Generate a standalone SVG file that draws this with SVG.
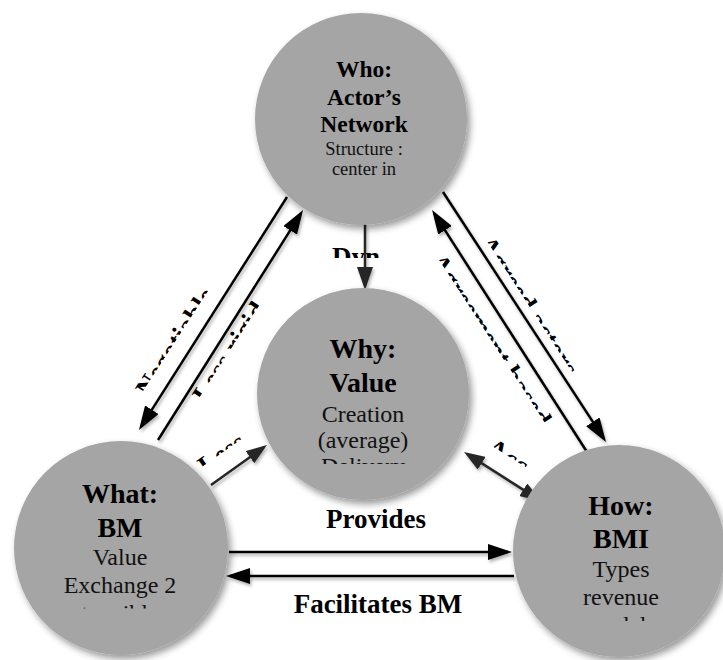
<svg xmlns="http://www.w3.org/2000/svg" width="723" height="660" viewBox="0 0 723 660">
  <style>
    .node { fill: #a5a5a5; filter: url(#soft); }
    .title { font-family: "Liberation Serif", "Times New Roman", serif; font-weight: bold; text-anchor: middle; fill: #000; }
    .body { font-family: "Liberation Serif", "Times New Roman", serif; text-anchor: middle; fill: #111; }
    .lbl { font-family: "Liberation Serif", "Times New Roman", serif; font-weight: bold; font-size: 27px; fill: #000; }
    .mid { text-anchor: middle; }
    .edge { fill: none; stroke: #000; stroke-width: 2.5; }
    .edge-dk { fill: none; stroke: #262626; stroke-width: 2.5; }
  </style>
  <defs>
    <filter id="soft" x="-20%" y="-20%" width="140%" height="140%">
      <feDropShadow dx="3" dy="4" stdDeviation="3.5" flood-color="#000" flood-opacity="0.4"/>
    </filter>
    <filter id="lineShade" x="-10%" y="-10%" width="120%" height="120%">
      <feDropShadow dx="1.5" dy="2.5" stdDeviation="1.5" flood-color="#000" flood-opacity="0.3"/>
    </filter>
    <marker id="arrow" markerUnits="userSpaceOnUse" markerWidth="24" markerHeight="16" refX="20" refY="8" orient="auto">
      <path d="M0,0 L24,8 L0,16 Z" fill="#000"/>
    </marker>
    <marker id="arrowDk" markerUnits="userSpaceOnUse" markerWidth="23" markerHeight="16" refX="19" refY="8" orient="auto">
      <path d="M0,0 L23,8 L0,16 Z" fill="#262626"/>
    </marker>
    <marker id="arrowDkS" markerUnits="userSpaceOnUse" markerWidth="21" markerHeight="15" refX="17" refY="7.5" orient="auto-start-reverse">
      <path d="M0,0 L21,7.5 L0,15 Z" fill="#262626"/>
    </marker>
    <!-- label text boxes are too small: only the upper part of each line shows -->
    <clipPath id="band" clipPathUnits="userSpaceOnUse">
      <rect x="-200" y="-40" width="400" height="32"/>
    </clipPath>
    <clipPath id="bandNarrow" clipPathUnits="userSpaceOnUse">
      <rect x="-200" y="-40" width="400" height="30.5"/>
    </clipPath>
    <clipPath id="clipWhy"><rect x="250" y="440" width="230" height="24"/></clipPath>
    <clipPath id="clipWhat"><rect x="10" y="590" width="230" height="18.5"/></clipPath>
    <clipPath id="clipHow"><rect x="510" y="600" width="213" height="21"/></clipPath>
  </defs>

  <rect width="723" height="660" fill="#fff"/>

  <!-- connectors and their labels -->
  <g id="connectors">
    <g id="edge-labels">
      <g transform="translate(332,266)"><text class="lbl" x="0" y="0" clip-path="url(#band)">Dyn</text></g>
      <g transform="translate(183,347) rotate(-57)"><text class="lbl mid" x="0" y="0" clip-path="url(#bandNarrow)">Negotiable</text></g>
      <g transform="translate(237,357) rotate(-57)"><text class="lbl mid" x="0" y="0" clip-path="url(#bandNarrow)">Less rigid</text></g>
      <g transform="translate(521,311) rotate(57)"><text class="lbl mid" x="0" y="0" clip-path="url(#bandNarrow)">Agreed actors</text></g>
      <g transform="translate(483,345) rotate(57)"><text class="lbl mid" x="0" y="0" clip-path="url(#bandNarrow)">Agreement based</text></g>
      <g transform="translate(227,461) rotate(-35)"><text class="lbl mid" x="0" y="0" clip-path="url(#bandNarrow)">Less</text></g>
      <g transform="translate(503,464) rotate(32)"><text class="lbl mid" x="0" y="0" clip-path="url(#bandNarrow)">Acc</text></g>
      <text class="lbl mid" x="376" y="528">Provides</text>
      <text class="lbl mid" x="378" y="613">Facilitates BM</text>
    </g>
    <g id="edge-lines" filter="url(#lineShade)">
      <path class="edge" d="M287,197 L141.1,426.6" marker-end="url(#arrow)"/>
      <path class="edge" d="M158,440 L300.9,213.4" marker-end="url(#arrow)"/>
      <path class="edge" d="M443,192 L603.8,438.6" marker-end="url(#arrow)"/>
      <path class="edge" d="M587,452 L434.2,213.4" marker-end="url(#arrow)"/>
      <path class="edge" d="M229,552 L508,552" marker-end="url(#arrow)"/>
      <path class="edge" d="M514,576 L230,576" marker-end="url(#arrow)"/>
      <path class="edge-dk" d="M365,224 L365,286" marker-end="url(#arrowDk)"/>
      <path class="edge-dk" d="M211,485 L263.7,447.3" marker-end="url(#arrowDkS)"/>
      <path class="edge-dk" d="M467.4,454.1 L537.6,498.9" marker-start="url(#arrowDkS)" marker-end="url(#arrowDkS)"/>
    </g>
  </g>

  <!-- Who -->
  <g id="who">
    <circle class="node" cx="361" cy="119" r="106"/>
    <text class="title" x="364" y="77" font-size="23.5">Who:</text>
    <text class="title" x="364" y="105" font-size="23.5">Actor’s</text>
    <text class="title" x="364" y="132" font-size="23.5">Network</text>
    <text class="body" x="364" y="155" font-size="18.5">Structure :</text>
    <text class="body" x="364" y="175" font-size="18.5">center in</text>
  </g>

  <!-- Why -->
  <g id="why">
    <circle class="node" cx="363" cy="394" r="106"/>
    <text class="title" x="363" y="358" font-size="28">Why:</text>
    <text class="title" x="363" y="392" font-size="28">Value</text>
    <text class="body" x="363" y="422" font-size="24">Creation</text>
    <text class="body" x="363" y="448" font-size="24">(average)</text>
    <text class="body" x="363" y="474" font-size="24" clip-path="url(#clipWhy)">Delivery</text>
  </g>

  <!-- What -->
  <g id="what">
    <circle class="node" cx="121" cy="548" r="107"/>
    <text class="title" x="120" y="503" font-size="28">What:</text>
    <text class="title" x="120" y="537" font-size="28">BM</text>
    <text class="body" x="120" y="565" font-size="24">Value</text>
    <text class="body" x="120" y="593" font-size="24">Exchange 2</text>
    <text class="body" x="120" y="621" font-size="24" clip-path="url(#clipWhat)">tangible</text>
  </g>

  <!-- How -->
  <g id="how">
    <circle class="node" cx="619" cy="551" r="106"/>
    <text class="title" x="621" y="515" font-size="28">How:</text>
    <text class="title" x="621" y="548" font-size="28">BMI</text>
    <text class="body" x="621" y="577" font-size="24">Types</text>
    <text class="body" x="621" y="605" font-size="24">revenue</text>
    <text class="body" x="621" y="633" font-size="24" clip-path="url(#clipHow)">models</text>
  </g>
</svg>
